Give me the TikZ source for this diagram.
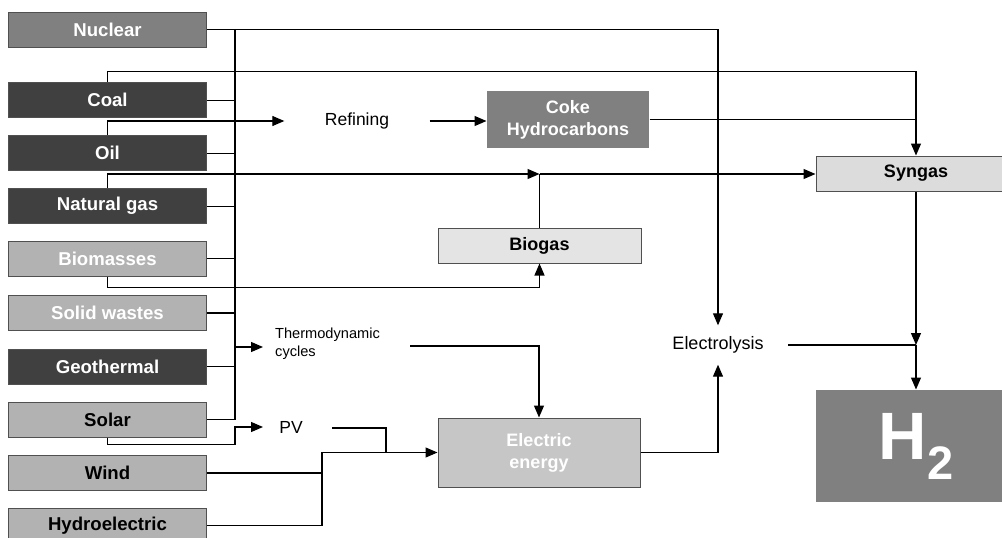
\documentclass[tikz,border=0pt]{standalone}
\usepackage{fontspec}
\setmainfont{Liberation Sans}
\usetikzlibrary{arrows.meta}
\definecolor{gNuc}{HTML}{808080}
\definecolor{gDark}{HTML}{404040}
\definecolor{gLight}{HTML}{B2B2B2}
\definecolor{gBiogas}{HTML}{E4E4E4}
\definecolor{gSyn}{HTML}{DCDCDC}
\definecolor{gElec}{HTML}{C6C6C6}
\definecolor{gBorder}{HTML}{505050}
\begin{document}
\begin{tikzpicture}[x=1pt,y=-1pt,
  src/.style={draw=gBorder, line width=1pt, minimum width=198pt, minimum height=35pt, inner sep=0pt,
    font=\fontsize{18.6}{20}\selectfont\bfseries},
  box/.style={draw=gBorder, line width=1pt, inner sep=0pt, align=center,
    font=\fontsize{18}{22}\selectfont\bfseries},
  txt/.style={inner sep=0pt, font=\fontsize{17.5}{20}\selectfont},
  ln/.style={draw=black, line width=1.2pt},
  arr/.style={ln, -{Triangle[length=12pt,width=10pt]}}]
\useasboundingbox (0,0) rectangle (1002,538);
% sources
\node[src, fill=gNuc, text=white] (nuc) at (107.5,29.8) {Nuclear};
\node[src, fill=gDark, text=white] (coal) at (107.5,100.2) {Coal};
\node[src, fill=gDark, text=white] (oil) at (107.5,153.2) {Oil};
\node[src, fill=gDark, text=white] (ng) at (107.5,206.2) {Natural gas};
\node[src, fill=gLight, text=white] (bio) at (107.5,258.8) {Biomasses};
\node[src, fill=gLight, text=white] (sw) at (107.5,313) {Solid wastes};
\node[src, fill=gDark, text=white] (geo) at (107.5,366.5) {Geothermal};
\node[src, fill=gLight] (solar) at (107.5,419.7) {Solar};
\node[src, fill=gLight] (wind) at (107.5,473) {Wind};
\node[src, fill=gLight] (hydro) at (107.5,525.5) {Hydroelectric};
% processes
\node[txt, minimum width=145pt, minimum height=20pt] (ref) at (357,121) {Refining};
\node[box, draw=none, fill=gNuc, text=white, minimum width=162pt, minimum height=57pt] (coke) at (568,119.5) {Coke\\Hydrocarbons};
\node[box, fill=gBiogas, minimum width=203pt, minimum height=35pt] (biogas) at (539.5,245.5) {Biogas};
\node[box, fill=gSyn, minimum width=200pt, minimum height=35pt] (syn) at (916,173.5) {Syngas};
\node[box, fill=gElec, text=white, minimum width=202pt, minimum height=69pt] (elecE) at (539,452.5) {Electric\\energy};
\node[box, draw=none, fill=gNuc, text=white, minimum width=200pt, minimum height=112pt] (h2) at (916,446)
  {\fontsize{67}{67}\selectfont H\raisebox{-20pt}{\fontsize{47}{47}\selectfont 2}};
\node[txt, minimum width=140pt, minimum height=39pt, font=\fontsize{18}{20}\selectfont] (elys) at (718,345) {Electrolysis};
\node[inner sep=0pt, anchor=west, align=left, font=\fontsize{14.6}{18}\selectfont] (thermo) at (275,344) {Thermodynamic\\cycles};
\node[txt] (pv) at (291,427) {PV};
\coordinate (thIn) at (263,347);
\coordinate (thOut) at (410,346);
\coordinate (pvIn) at (263,427);
\coordinate (pvOut) at (332,428);
\coordinate (busT) at (235,29.8);
\coordinate (busB) at (235,419.7);
\coordinate (bgJ) at (539.5,174);
\coordinate (wj) at (322,452.5);
\coordinate (pj) at (386,452.5);
% bus
\draw[ln] (busT) -- (busB);
\foreach \n in {coal,oil,ng,bio,sw,geo,solar} \draw[ln] (\n.east) -- (\n.east -| busT);
% connectors
\draw[arr] (nuc.east) -| (elys.north);
\draw[arr] (coal.north) -- ++(0,-11) -| (syn.north);
\draw[arr] (oil.north) |- (ref.west);
\draw[arr] (ref.east) -- (ref.east -| coke.west);
\draw[ln] (coke.east) -- (coke.east -| syn.north);
\draw[arr] (ng.north) |- (bgJ);
\draw[arr] (bgJ) -- (bgJ -| syn.west);
\draw[ln] (biogas.north) -- (bgJ);
\draw[arr] (bio.south) -- ++(0,11) -| (biogas.south);
\draw[arr] (thIn -| busT) -- (thIn);
\draw[arr] (thOut) -| (elecE.north);
\draw[arr] (solar.south) -- ++(0,7) -| (busT |- pvIn) -- (pvIn);
\draw[ln] (pvOut) -| (pj);
\draw[ln] (wind.east) -- (wind.east -| wj);
\draw[arr] (hydro.east) -| (wj) -- (elecE.west);
\draw[arr] (elecE.east) -| (elys.south);
\coordinate (hj) at (elys.east -| syn.south);
\draw[ln] (elys.east) -- (hj);
\draw[arr] (syn.south) -- (hj);
\draw[arr] (hj) -- (h2.north);
\end{tikzpicture}
\end{document}
